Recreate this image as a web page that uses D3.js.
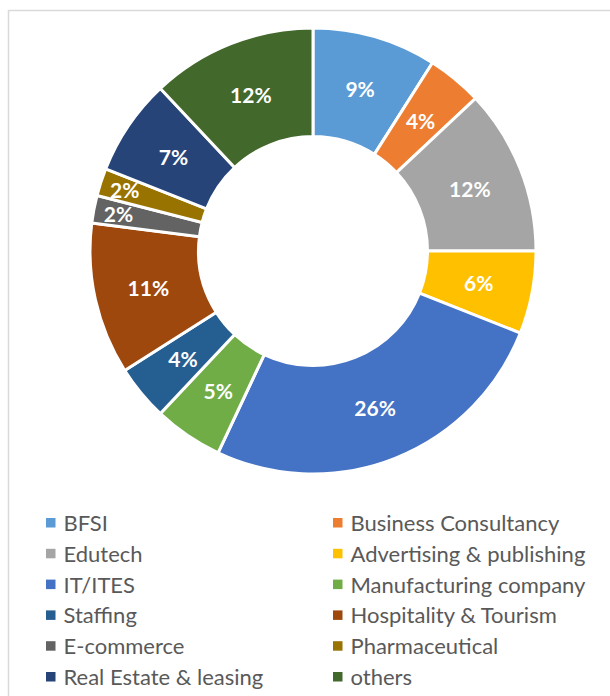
<!DOCTYPE html>
<html>
<head>
<meta charset="utf-8">
<script src="https://cdn.jsdelivr.net/npm/d3@7"></script>
<style>
  body { margin: 0; background: #fff; }
  svg { display: block; }
</style>
</head>
<body>
<div id="chart"></div>
<script>
// chart data
var categories = ["BFSI", "Business Consultancy", "Edutech", "Advertising & publishing",
  "IT/ITES", "Manufacturing company", "Staffing", "Hospitality & Tourism",
  "E-commerce", "Pharmaceutical", "Real Estate & leasing", "others"];
var shares = [9, 4, 12, 6, 26, 5, 4, 11, 2, 2, 7, 12];
var colors = ["#5B9BD5", "#ED7D31", "#A5A5A5", "#FFC000", "#4472C4", "#70AD47",
  "#255E91", "#9E480E", "#636363", "#997300", "#264478", "#43682B"];

var svgWidth = 610, svgHeight = 696;
var cx = 313, cy = 251;
var outerR = 223, innerR = 114.5;

var svg = d3.select("#chart").append("svg")
  .attr("width", svgWidth)
  .attr("height", svgHeight);

// chart area border (runs off the right and bottom)
svg.append("rect")
  .attr("x", 8.5).attr("y", 10.5)
  .attr("width", 640).attr("height", 720)
  .attr("fill", "#fff")
  .attr("stroke", "#d9d9d9")
  .attr("stroke-width", 1.5);

var data = categories.map(function(c, i) { return { name: c, value: shares[i], color: colors[i] }; });

var pie = d3.pie().sort(null).value(d => d.value);
var arc = d3.arc().innerRadius(innerR).outerRadius(outerR);
// thin slices get their label pushed outward, like Excel's best fit
var outerLabelArc = d3.arc().innerRadius(198).outerRadius(198);

var g = svg.append("g").attr("transform", `translate(${cx}, ${cy})`);

g.selectAll("path")
  .data(pie(data))
  .enter()
  .append("path")
  .attr("d", arc)
  .attr("fill", d => d.data.color)
  .attr("stroke", "#fff")
  .attr("stroke-width", 3);

g.selectAll("text.lbl")
  .data(pie(data))
  .enter()
  .append("text")
  .attr("class", "lbl")
  .attr("transform", function(d) {
    var p = d.data.value <= 2 ? outerLabelArc.centroid(d) : arc.centroid(d);
    return `translate(${p})`;
  })
  .attr("text-anchor", "middle")
  .attr("dy", "0.4em")
  .style("font-family", "Lato, 'Open Sans', sans-serif")
  .style("font-weight", "bold")
  .style("font-size", "21px")
  .style("fill", "#fff")
  .text(d => d.data.value + "%");

// legend, two columns
var legend = svg.append("g");
var rowY = d3.scaleLinear().domain([0, 5]).range([523, 677]);
var colX = [46, 333];

var items = legend.selectAll("g.item")
  .data(data)
  .enter()
  .append("g")
  .attr("class", "item")
  .attr("transform", (d, i) => `translate(${colX[i % 2]}, ${rowY(Math.floor(i / 2))})`);

items.append("rect")
  .attr("x", 0).attr("y", -5)
  .attr("width", 9.5).attr("height", 9.5)
  .attr("fill", d => d.color);

items.append("text")
  .attr("x", 17.5)
  .attr("dy", "0.36em")
  .style("font-family", "Lato, 'Open Sans', sans-serif")
  .style("font-size", "22px")
  .style("fill", "#595959")
  .text(d => d.name);
</script>
</body>
</html>
